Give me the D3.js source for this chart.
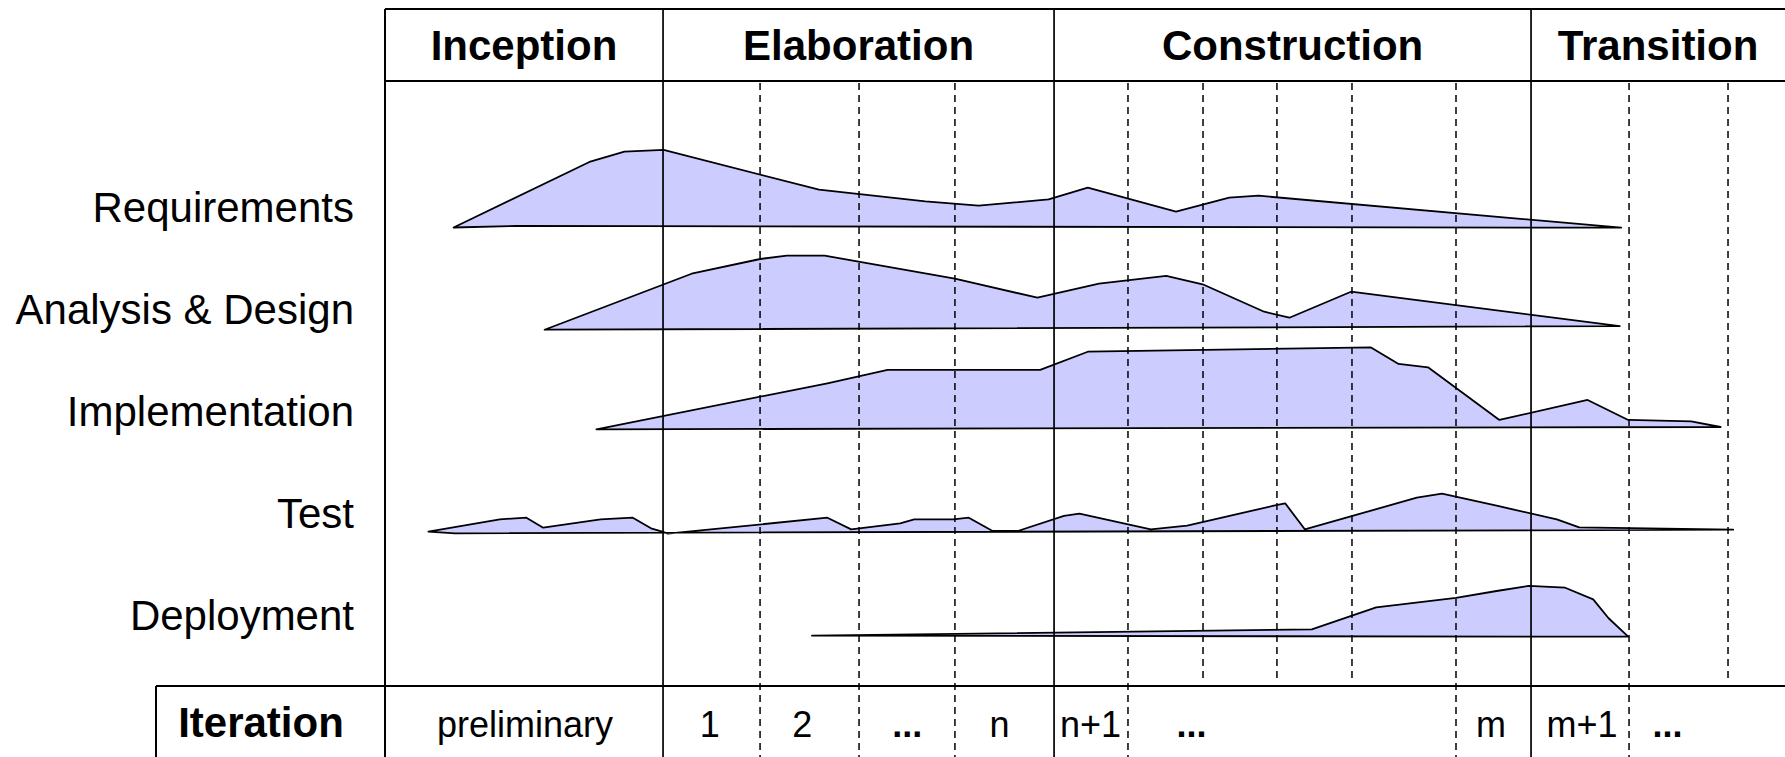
<!DOCTYPE html>
<html>
<head>
<meta charset="utf-8">
<script src="https://cdn.jsdelivr.net/npm/d3@7/dist/d3.min.js"></script>
<style>
  body { margin: 0; background: #fff; }
  svg { display: block; font-family: "Liberation Sans", Arial, Helvetica, sans-serif; }
</style>
</head>
<body>
<script>
// Time runs 0..100 across the frame, effort 0..100 per workflow (above its baseline)
const phases = ['Inception', 'Elaboration', 'Construction', 'Transition'];
const phaseEnds = [19.86, 47.79, 81.86, 100];
const iterationEnds = [26.79, 33.86, 40.71, 53.07, 58.43, 63.71, 69.07, 76.5, 88.86, 95.93];
// which iteration boundaries also split the bottom "Iteration" row
const iterationInRow = [true, true, true, true, false, false, false, true, true, false];
const iterationLabels = ['preliminary', '1', '2', '...', 'n', 'n+1', '...', 'm', 'm+1', '...'];
const iterationLabelAt = [10.0, 23.2, 29.8, 37.3, 43.9, 50.4, 57.6, 79.0, 85.5, 91.6];
const workflows = ['Requirements', 'Analysis & Design', 'Implementation', 'Test', 'Deployment'];

// outline of each hump: [time, effort]; *Base = extra points on the bottom edge
const requirementsTop = [[4.9, -0.6], [14.6, 81.3], [17.1, 94.1], [19.9, 96.3], [31.0, 46.6],
    [38.6, 32.1], [42.4, 26.6], [47.4, 34.6], [50.2, 49.1], [56.5, 19.1], [60.3, 36.6],
    [62.4, 39.1], [88.3, -0.9]];
const requirementsBase = [[9.4, 1.3]];

const designTop = [[11.4, -0.9], [21.9, 69.1], [26.8, 87.5], [28.7, 91.6], [31.4, 91.6],
    [40.7, 62.9], [46.6, 39.1], [51.0, 56.6], [55.8, 66.3], [58.4, 55.9], [62.8, 21.6],
    [64.6, 14.1], [69.0, 46.6], [88.2, 3.6]];
const designBase = [];

const implementationTop = [[15.1, 2.1], [31.6, 59.6], [35.9, 76.3], [46.8, 76.3], [50.2, 99.1],
    [70.4, 104.6], [72.4, 83.8], [74.5, 79.6], [79.6, 13.8], [85.9, 38.8], [88.8, 13.8],
    [93.3, 12.1], [95.4, 5.0]];
const implementationBase = [];

const testTop = [[3.1, 1.6], [8.2, 17.1], [10.1, 19.1], [11.3, 6.6], [15.4, 17.1], [17.7, 19.1],
    [19.0, 5.9], [19.8, 1.6], [20.2, -0.9], [31.6, 19.1], [33.3, 4.6], [36.8, 12.1],
    [37.8, 17.1], [40.6, 17.1], [41.7, 19.1], [43.4, 2.5], [45.2, 2.5], [48.5, 21.3],
    [49.6, 24.1], [54.7, 4.6], [57.3, 9.1], [63.4, 33.8], [64.3, 37.1], [65.7, 4.6],
    [73.7, 44.1], [75.5, 49.1], [79.4, 34.1], [83.7, 17.1], [85.3, 7.1], [96.3, 4.1]];
const testBase = [[5.0, -0.4]];

const deploymentTop = [[30.5, -0.9], [66.2, 7.1], [70.8, 34.6], [76.5, 46.3], [79.4, 55.0],
    [81.7, 61.3], [84.3, 59.1], [86.3, 44.6], [87.4, 20.9], [88.8, -2.1]];
const deploymentBase = [];

const outlines = [
    [requirementsTop, requirementsBase],
    [designTop, designBase],
    [implementationTop, implementationBase],
    [testTop, testBase],
    [deploymentTop, deploymentBase],
];

const width = 1785;
const height = 757;
const frameTop = 9;
const headerBottom = 81;
const rowTop = 686;
const iterLeft = 156;

const svg = d3.select('body').append('svg')
    .attr('width', width)
    .attr('height', height);

svg.append('rect').attr('width', width).attr('height', height).attr('fill', '#fff');

const x = d3.scaleLinear().domain([0, 100]).range([385, 1785]);
const rowY = d3.scalePoint().domain(workflows).range([227, 635]);
const effort = d3.scaleLinear().domain([0, 100]).range([0, 80]);

// workflow humps
outlines.forEach(([top, base], i) => {
    const y0 = rowY(workflows[i]);
    const pts = top.concat(base.slice().reverse());
    const line = d3.line()
        .x(d => x(d[0]))
        .y(d => y0 - effort(d[1]))
        .curve(d3.curveLinearClosed);
    svg.append('path')
        .attr('d', line(pts))
        .attr('fill', '#ccccff')
        .attr('stroke', '#000')
        .attr('stroke-width', 1.8)
        .attr('stroke-linejoin', 'round');
});

// row labels
svg.append('g').selectAll('text')
    .data(workflows)
    .join('text')
    .attr('x', 354)
    .attr('y', d => rowY(d) - 4.7)
    .attr('text-anchor', 'end')
    .attr('font-size', 42)
    .text(d => d);

// dashed iteration boundaries
svg.append('g').selectAll('line')
    .data(iterationEnds)
    .join('line')
    .attr('x1', d => x(d)).attr('x2', d => x(d))
    .attr('y1', headerBottom + 2)
    .attr('y2', (d, i) => iterationInRow[i] ? height : rowTop - 7)
    .attr('stroke', '#000')
    .attr('stroke-width', 1.5)
    .attr('stroke-dasharray', '7,5');

// phase boundaries and frame
const solid = svg.append('g').attr('stroke', '#000').attr('fill', 'none');
solid.selectAll('line.phase')
    .data([0].concat(phaseEnds.slice(0, -1)))
    .join('line')
    .attr('class', 'phase')
    .attr('x1', d => x(d)).attr('x2', d => x(d))
    .attr('y1', frameTop).attr('y2', height)
    .attr('stroke-width', d => d === 0 ? 2 : 1.7);
solid.append('line')
    .attr('x1', x(0)).attr('x2', x(100))
    .attr('y1', frameTop).attr('y2', frameTop)
    .attr('stroke-width', 2);
solid.append('line')
    .attr('x1', x(0)).attr('x2', x(100))
    .attr('y1', headerBottom).attr('y2', headerBottom)
    .attr('stroke-width', 2);
solid.append('line')
    .attr('x1', iterLeft).attr('x2', x(100))
    .attr('y1', rowTop).attr('y2', rowTop)
    .attr('stroke-width', 2);
solid.append('line')
    .attr('x1', iterLeft).attr('x2', iterLeft)
    .attr('y1', rowTop).attr('y2', height)
    .attr('stroke-width', 2);

// phase headers
const phaseStarts = [0].concat(phaseEnds.slice(0, -1));
svg.append('g').selectAll('text')
    .data(phases)
    .join('text')
    .attr('x', (d, i) => x((phaseStarts[i] + phaseEnds[i]) / 2))
    .attr('y', 60)
    .attr('text-anchor', 'middle')
    .attr('font-size', 42)
    .attr('font-weight', 'bold')
    .text(d => d);

// iteration row
svg.append('text')
    .attr('x', 261)
    .attr('y', 737)
    .attr('text-anchor', 'middle')
    .attr('font-size', 42)
    .attr('font-weight', 'bold')
    .text('Iteration');

svg.append('g').selectAll('text')
    .data(iterationLabels)
    .join('text')
    .attr('x', (d, i) => x(iterationLabelAt[i]))
    .attr('y', 737)
    .attr('text-anchor', 'middle')
    .attr('font-size', 36)
    .attr('font-weight', d => d === '...' ? 'bold' : 'normal')
    .text(d => d);
</script>
</body>
</html>
